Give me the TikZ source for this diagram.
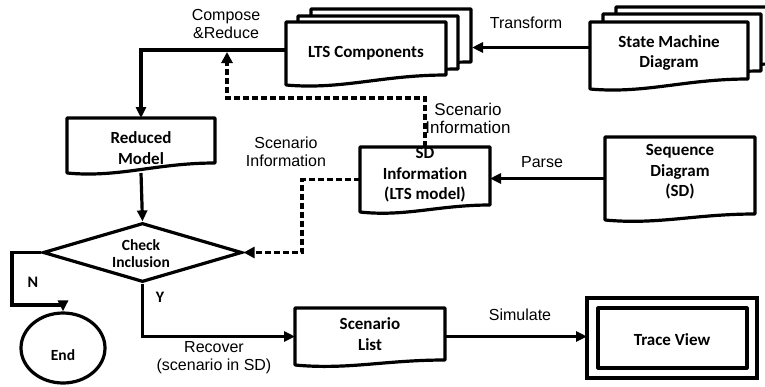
\documentclass[tikz,border=0pt]{standalone}
\usepackage{fontspec}
\setmainfont{Liberation Sans}
\newfontfamily\boxfont[Ligatures={NoCommon}]{Carlito}
\usetikzlibrary{shapes.geometric,arrows.meta,calc}

% document outline: #1 node, #2 dx, #3 dy (pixel units, y down), #4 rise of right end
\newcommand\docline[4]{%
  \draw[boxline,fill=white]
    ($(#1.south west)+(#2,#3)$) -- ($(#1.north west)+(#2,#3)$)
    -- ($(#1.north east)+(#2,#3)$) -- ($(#1.south east)+(#2,#3-#4)$)
    .. controls ($(#1.south east)!0.4!(#1.south west)+(#2,#3-#4)$)
    and ($(#1.south west)!0.35!(#1.south east)+(#2,#3+5)$)
    .. ($(#1.south west)+(#2,#3)$) -- cycle;}

\begin{document}
\begin{tikzpicture}[x=1pt,y=-1pt,
  boxline/.style={line width=3.2pt,line join=round},
  conn/.style={line width=3.2pt},
  arr/.style={conn,-{Triangle[length=11pt,width=10pt]}},
  darr/.style={line width=3.4pt,dash pattern=on 6pt off 3pt,-{Triangle[length=11pt,width=11pt]}},
  boxn/.style={inner sep=0pt,outer sep=0pt},
  btext/.style={font=\boxfont\bfseries\fontsize{17}{20.5}\selectfont,align=center,inner sep=0pt},
  stext/.style={font=\boxfont\bfseries\fontsize{15.5}{17}\selectfont,align=center,inner sep=0pt},
  lbl/.style={font=\fontsize{16}{18}\selectfont,align=center,inner sep=0pt}]
\useasboundingbox (0,0) rectangle (765,386);

% box frames (empty named nodes)
\node[boxn,minimum width=160pt,minimum height=63pt] (lts) at (366,53.5) {};
\node[boxn,minimum width=158pt,minimum height=67pt] (sm) at (669,55.5) {};
\node[boxn,minimum width=148pt,minimum height=55pt] (red) at (141,145.5) {};
\node[boxn,minimum width=130pt,minimum height=65pt] (sdi) at (425,179.5) {};
\node[boxn,minimum width=150pt,minimum height=83pt] (sq) at (680,178.5) {};
\node[boxn,minimum width=150pt,minimum height=57pt] (sl) at (370,336.5) {};
\node[boxn,draw,line width=3.2pt,minimum width=170pt,minimum height=80pt] (tv) at (672,338) {};
\node[diamond,draw,line width=3.2pt,inner sep=0pt,aspect=3.4,minimum width=199pt,minimum height=59pt] (chk) at (142.5,252.5) {};
\node[ellipse,draw,line width=3.2pt,inner sep=0pt,minimum width=84pt,minimum height=70pt] (end) at (63,348) {};

% outlines
\docline{lts}{25}{-13}{10}
\docline{lts}{12}{-6}{10}
\docline{lts}{0}{0}{10}
\docline{sm}{26}{-15}{10}
\docline{sm}{13}{-8}{10}
\docline{sm}{0}{0}{10}
\docline{red}{0}{0}{10}
\docline{sdi}{0}{0}{7}
\docline{sq}{0}{0}{6}
\docline{sl}{0}{0}{5}
\draw[boxline] ($(tv.north west)+(11,10)$) rectangle ($(tv.south east)+(-10,-10)$);

% texts
\node[btext] (ltsT) at (366,53) {LTS Components};
\node[btext] (smT) at (669,53) {State Machine\\Diagram};
\node[btext] (redT) at (141,148) {Reduced\\Model};
\node[btext] (sdiT) at (425,175) {SD\\Information\\(LTS model)};
\node[btext] (sqT) at (680,172) {Sequence\\Diagram\\(SD)};
\node[btext] (slT) at (370,334) {Scenario\\List};
\node[btext] (tvT) at (672,340) {Trace View};
\node[stext] (chkT) at (141,253.5) {Check\\Inclusion};
\node[stext] (endT) at (63,355) {End};

% labels
\node[lbl] (lCompose) at (226,24) {Compose\\\&Reduce};
\node[lbl] (lTransform) at (526,23) {Transform};
\node[lbl,font=\fontsize{17}{18}\selectfont] (lScen1) at (468,118) {Scenario\\Information};
\node[lbl] (lScen2) at (286,152) {Scenario\\Information};
\node[lbl] (lParse) at (542,162) {Parse};
\node[stext,font=\boxfont\bfseries\fontsize{16}{18}\selectfont] (lN) at (33,282) {N};
\node[stext,font=\boxfont\bfseries\fontsize{16}{18}\selectfont] (lY) at (160,297) {Y};
\node[lbl] (lRecover) at (214,358) {Recover\\(scenario in SD)};
\node[lbl] (lSim) at (520,315) {Simulate};

% helper coordinates
\coordinate (ltsback) at ($(lts.east)+(26,0)$);
\coordinate (tA) at ($(sm.west)+(0,-8)$);
\coordinate (cA) at ($(lts.west)+(0,-3.5)$);
\coordinate (cr) at (227,52);
\coordinate (k1) at (227,98);
\coordinate (k2) at (302,220);
\coordinate (k3) at (12,305);

% connectors
\draw[arr] (tA) -- (tA -| ltsback);
\draw[arr] (cA) -| (red.north);
\draw[darr] (sdi.north) |- (k1) -- (cr);
\draw[arr] (sq.west) -- (sq.west -| sdi.east);
\draw[darr] (sdi.west) -| (k2) |- (chk.east);
\draw[arr] (red.south) -- (chk.north);
\draw[arr] (chk.west) -| (k3) -| (end.north);
\draw[arr] (chk.south) |- (sl.west);
\draw[arr] (sl.east) -- (sl.east -| tv.west);
\end{tikzpicture}
\end{document}
